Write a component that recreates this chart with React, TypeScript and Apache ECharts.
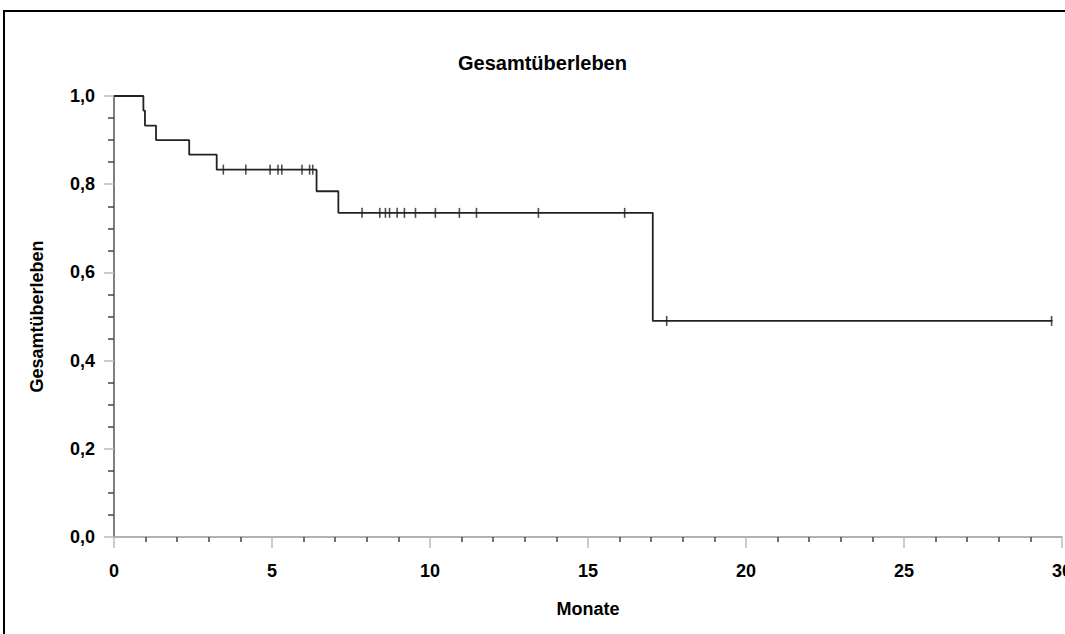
import React, { useEffect, useRef } from "react";
import * as echarts from "echarts";

// Kaplan-Meier step points: [months, survival]
const stepTimes = [0, 0.93, 0.98, 1.33, 2.38, 3.25, 6.41, 7.1, 17.05, 29.7];
const stepSurvival = [1.0, 0.967, 0.933, 0.9, 0.867, 0.833, 0.784, 0.735, 0.49, 0.49];

// Censored observations
const censorTimes = [
  3.46, 4.17, 4.94, 5.19, 5.31, 5.95, 6.19, 6.29,
  7.85, 8.41, 8.59, 8.72, 8.96, 9.19, 9.54, 10.17, 10.93, 11.47, 13.43, 16.16,
  17.49, 29.67,
];
const censorSurvival = [
  0.833, 0.833, 0.833, 0.833, 0.833, 0.833, 0.833, 0.833,
  0.735, 0.735, 0.735, 0.735, 0.735, 0.735, 0.735, 0.735, 0.735, 0.735, 0.735, 0.735,
  0.49, 0.49,
];

const titleText = "Gesamtüberleben";
const xAxisName = "Monate";
const yAxisName = "Gesamtüberleben";

const FONT = "'Liberation Sans', Arial, sans-serif";

export default function App() {
  const ref = useRef<HTMLDivElement>(null);

  useEffect(() => {
    if (!ref.current) return;
    document.body.style.margin = "0";
    document.body.style.overflow = "hidden";
    const chart = echarts.init(ref.current, undefined, { renderer: "svg" });
    const stepData = stepTimes.map((t, i) => [t, stepSurvival[i]]);
    const censorData = censorTimes.map((t, i) => [t, censorSurvival[i]]);

    chart.setOption({
      animation: false,
      backgroundColor: "#fff",
      title: {
        text: titleText,
        left: 453,
        top: 48,
        textStyle: { fontFamily: FONT, fontSize: 20, fontWeight: "bold", color: "#000" },
      },
      graphic: [
        {
          type: "line",
          shape: { x1: 3, y1: 11, x2: 1065, y2: 11 },
          style: { stroke: "#000", lineWidth: 2 },
          silent: true,
        },
        {
          type: "line",
          shape: { x1: 4, y1: 10, x2: 4, y2: 634 },
          style: { stroke: "#000", lineWidth: 2 },
          silent: true,
        },
      ],
      grid: {
        left: 114,
        right: 3,
        top: 96,
        bottom: 97,
        containLabel: false,
        outerBoundsMode: "none",
      },
      xAxis: {
        type: "value",
        min: 0,
        max: 30,
        interval: 5,
        name: xAxisName,
        nameLocation: "middle",
        nameGap: 63,
        nameTextStyle: { fontFamily: FONT, fontSize: 18, fontWeight: "bold", color: "#000" },
        axisLine: { show: true, onZero: false, lineStyle: { color: "#999", width: 1.5 } },
        axisTick: { show: true, length: 11, lineStyle: { color: "#bbb", width: 1.5 } },
        minorTick: { show: true, splitNumber: 5, length: 5, lineStyle: { color: "#444", width: 1.5 } },
        axisLabel: { margin: 25, fontFamily: FONT, fontSize: 18, fontWeight: "bold", color: "#000" },
        splitLine: { show: false },
        minorSplitLine: { show: false },
      },
      yAxis: {
        type: "value",
        min: 0,
        max: 1,
        interval: 0.2,
        name: yAxisName,
        nameLocation: "middle",
        nameGap: 68,
        nameTextStyle: { fontFamily: FONT, fontSize: 18, fontWeight: "bold", color: "#000" },
        axisLine: { show: true, lineStyle: { color: "#555", width: 1.5 } },
        axisTick: { show: true, length: 10, lineStyle: { color: "#bbb", width: 1.5 } },
        minorTick: { show: true, splitNumber: 4, length: 6, lineStyle: { color: "#444", width: 1.5 } },
        axisLabel: {
          margin: 19,
          fontFamily: FONT,
          fontSize: 18,
          fontWeight: "bold",
          color: "#000",
          formatter: (v: number) => v.toFixed(1).replace(".", ","),
        },
        splitLine: { show: false },
        minorSplitLine: { show: false },
      },
      series: [
        {
          type: "line",
          step: "end",
          data: stepData,
          showSymbol: false,
          symbol: "none",
          lineStyle: { color: "#222", width: 1.8 },
          z: 3,
        },
        {
          type: "scatter",
          data: censorData,
          symbol: "rect",
          symbolSize: [1.6, 10],
          itemStyle: { color: "#222" },
          z: 4,
        },
      ],
    });

    return () => chart.dispose();
  }, []);

  return (
    <div
      ref={ref}
      style={{ position: "absolute", left: 0, top: 0, width: 1065, height: 634, overflow: "hidden" }}
    />
  );
}
